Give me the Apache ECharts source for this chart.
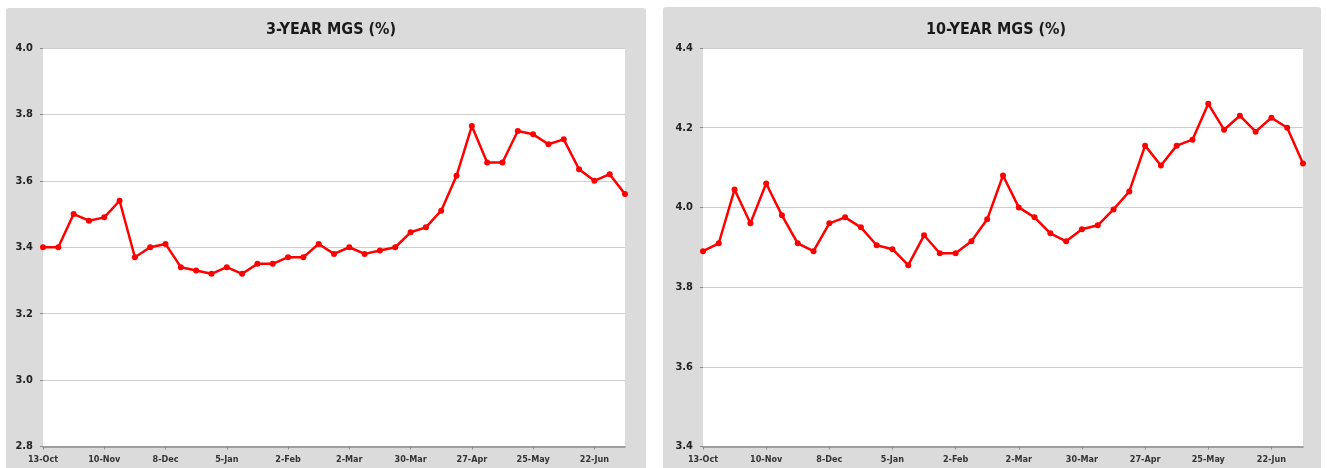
<!DOCTYPE html>
<html>
<head>
<meta charset="utf-8">
<script src="https://cdn.jsdelivr.net/npm/echarts@6/dist/echarts.min.js"></script>
<style>
html,body{margin:0;padding:0;background:#fff;}
#c{width:1327px;height:468px;}
</style>
</head>
<body>
<div id="c"></div>
<script>
const weeks = ["13-Oct","20-Oct","27-Oct","3-Nov","10-Nov","17-Nov","24-Nov","1-Dec","8-Dec","15-Dec","22-Dec","29-Dec","5-Jan","12-Jan","19-Jan","26-Jan","2-Feb","9-Feb","16-Feb","23-Feb","2-Mar","9-Mar","16-Mar","23-Mar","30-Mar","6-Apr","13-Apr","20-Apr","27-Apr","4-May","11-May","18-May","25-May","1-Jun","8-Jun","15-Jun","22-Jun","29-Jun","6-Jul"];
const mgs3y = [3.40,3.40,3.50,3.48,3.49,3.54,3.37,3.40,3.41,3.34,3.33,3.32,3.34,3.32,3.35,3.35,3.37,3.37,3.41,3.38,3.40,3.38,3.39,3.40,3.445,3.46,3.51,3.615,3.765,3.655,3.655,3.75,3.74,3.71,3.725,3.635,3.60,3.62,3.56];
const mgs10y = [3.89,3.91,4.045,3.96,4.06,3.98,3.91,3.89,3.96,3.975,3.95,3.905,3.895,3.855,3.93,3.885,3.885,3.915,3.97,4.08,4.00,3.975,3.935,3.915,3.945,3.955,3.995,4.04,4.155,4.105,4.155,4.17,4.26,4.195,4.23,4.19,4.225,4.20,4.11];
const titles = ["3-YEAR MGS (%)","10-YEAR MGS (%)"];

const chart = echarts.init(document.getElementById('c'), null, {renderer:'canvas'});
const FONT = '"DejaVu Sans Condensed","DejaVu Sans",sans-serif';
function xAxis(i){
  return {type:'category', gridIndex:i, data:weeks, boundaryGap:false,
    axisLine:{show:true, lineStyle:{color:'#8c8c8c', width:1.5}},
    axisTick:{show:true, interval:3, length:3, lineStyle:{color:'#8c8c8c'}},
    axisLabel:{interval:3, fontSize:9, color:'#333', fontFamily:FONT, margin:9, fontWeight:'bold'},
    splitLine:{show:false}};
}
function yAxis(i,min,max){
  return {type:'value', gridIndex:i, min:min, max:max, interval:0.2,
    axisLine:{show:false},
    axisTick:{show:true, length:3, lineStyle:{color:'#8c8c8c'}},
    axisLabel:{formatter:v=>v.toFixed(1), fontSize:11, fontWeight:'bold', color:'#222', fontFamily:FONT, margin:10},
    splitLine:{show:true, lineStyle:{color:'#cfcfcf', width:1}}};
}
function series(i,data){
  return {type:'line', xAxisIndex:i, yAxisIndex:i, data:data,
    symbol:'circle', symbolSize:6, showSymbol:true,
    lineStyle:{color:'#ff0000', width:2.5},
    itemStyle:{color:'#ff0000'}, animation:false};
}
chart.setOption({
  animation:false,
  graphic:[
    {type:'rect', shape:{x:6,y:8,width:640,height:470,r:3}, style:{fill:'#dbdbdb'}, z:-10},
    {type:'rect', shape:{x:663,y:7,width:658,height:470,r:3}, style:{fill:'#dbdbdb'}, z:-10}
  ],
  title:[
    {text:titles[0], left:326, top:17, textAlign:'center', textStyle:{fontSize:16, fontWeight:'bold', color:'#1a1a1a', fontFamily:FONT}},
    {text:titles[1], left:991, top:17, textAlign:'center', textStyle:{fontSize:16, fontWeight:'bold', color:'#1a1a1a', fontFamily:FONT}}
  ],
  grid:[
    {left:43, right:702, top:48, bottom:21.5, show:true, backgroundColor:'#ffffff', borderWidth:0},
    {left:703, right:24, top:48, bottom:21.5, show:true, backgroundColor:'#ffffff', borderWidth:0}
  ],
  xAxis:[xAxis(0), xAxis(1)],
  yAxis:[yAxis(0,2.8,4.0), yAxis(1,3.4,4.4)],
  series:[series(0,mgs3y), series(1,mgs10y)]
});
</script>
</body>
</html>
